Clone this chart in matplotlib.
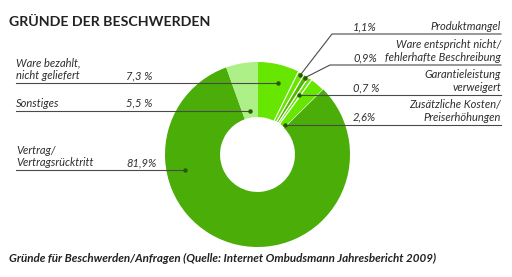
import numpy as np
import matplotlib
matplotlib.use("Agg")
import matplotlib.pyplot as plt

# ---- data ----
labels = ["Ware bezahlt,\nnicht geliefert", "Produktmangel",
          "Ware entspricht nicht/\nfehlerhafte Beschreibung",
          "Garantieleistung\nverweigert", "Zusätzliche Kosten/\nPreiserhöhungen",
          "Vertrag/\nVertragsrücktritt", "Sonstiges"]
values = [7.3, 1.1, 0.9, 0.7, 2.6, 81.9, 5.5]
pct_text = ["7,3 %", "1,1%", "0,9%", "0,7 %", "2,6%", "81,9%", "5,5 %"]
title = "GRÜNDE DER BESCHWERDEN"
footer = "Gründe für Beschwerden/Anfragen (Quelle: Internet Ombudsmann Jahresbericht 2009)"

# ---- style / layout ----
W, H = 512, 277
colors = ["#66e600", "#66e600", "#52b800", "#66e600", "#66e600", "#4aad08", "#aef088"]
edge_w = [0, 0.8, 0.8, 0.8, 0.8, 0, 0]
cx, cy, R = 257.5, 154.5, 92.5
ring = 0.595
# annotation anchor within wedge: (fraction along wedge, radius fraction)
anchor = [(0.61, 0.80), (0.5, 0.97), (0.5, 0.98), (0.5, 0.78), (0.75, 0.44), (0.72, 0.80), (0.5, 0.48)]
side = ["L", "R", "R", "R", "R", "L", "L"]
elbow = [None, (332, 34), (330, 65), None, None, None, None]

fig = plt.figure(figsize=(W / 100, H / 100), dpi=100)
fig.patch.set_facecolor("white")
axp = fig.add_axes([(cx - R) / W, (H - cy - R) / H, 2 * R / W, 2 * R / H])
wedges, _ = axp.pie(values, colors=colors, startangle=90, counterclock=False,
                    radius=1, wedgeprops=dict(width=ring, edgecolor="white", linewidth=0))
for w, lw in zip(wedges, edge_w):
    w.set_linewidth(lw)
axp.set_xlim(-1, 1)
axp.set_ylim(-1, 1)
axp.axis("off")

ov = fig.add_axes([0, 0, 1, 1], zorder=5)
ov.set_xlim(0, W)
ov.set_ylim(H, 0)
ov.axis("off")

fam = ["Lato", "DejaVu Sans"]
tc = "#2e2e2e"
lc = "#4a4a4a"
fs = 8.0
ov.text(9, 22, title, fontsize=10.2, fontweight="bold", family=fam, color="#222222",
        va="center", ha="left")
ov.text(9, 258, footer, fontsize=8.4, fontweight="bold", style="italic", family=fam,
        color="#222222", va="center", ha="left")

total = sum(values)
start = 0.0
for i, v in enumerate(values):
    ext = 360 * v / total
    f, rf = anchor[i]
    ang = np.deg2rad(start + f * ext)
    start += ext
    dx = cx + R * rf * np.sin(ang)
    dy = cy - R * rf * np.cos(ang)
    ov.plot([dx], [dy], marker="o", ms=2.2, color="#2a5a00", mec="#2a5a00", zorder=7)
    if side[i] == "L":
        ov.plot([16, dx], [dy, dy], color=lc, lw=0.8, zorder=6)
        ov.text(16, dy - 2, labels[i], fontsize=fs, style="italic", family=fam,
                color=tc, ha="left", va="bottom", linespacing=1.2)
        ov.text(126, dy - 2, pct_text[i], fontsize=fs, style="italic", family=fam,
                color=tc, ha="left", va="bottom")
    else:
        if elbow[i] is not None:
            ex, ey = elbow[i]
            ov.plot([dx, ex, 501], [dy, ey, ey], color=lc, lw=0.8, zorder=6)
            ly = ey
        else:
            ov.plot([dx, 501], [dy, dy], color=lc, lw=0.8, zorder=6)
            ly = dy
        ov.text(501, ly - 2, labels[i], fontsize=fs, style="italic", family=fam,
                color=tc, ha="right", va="bottom", linespacing=1.2)
        ov.text(353, ly - 2, pct_text[i], fontsize=fs, style="italic", family=fam,
                color=tc, ha="left", va="bottom")

fig.savefig("out.png", dpi=100, facecolor="white")
